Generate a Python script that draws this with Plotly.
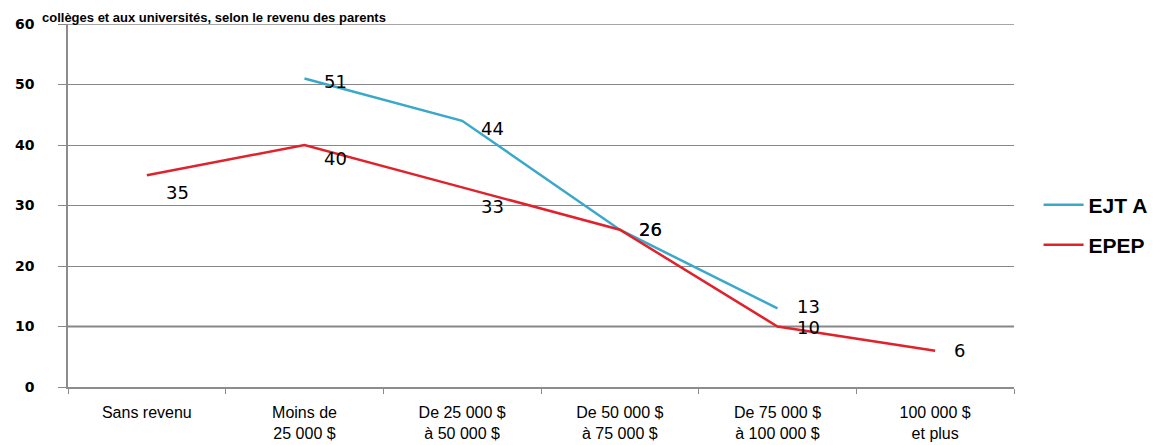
import plotly.graph_objects as go

categories = ["Sans revenu", "Moins de<br>25 000 $", "De 25 000 $<br>à 50 000 $",
              "De 50 000 $<br>à 75 000 $", "De 75 000 $<br>à 100 000 $", "100 000 $<br>et plus"]
ejta_values = [None, 51, 44, 26, 13, None]
epep_values = [35, 40, 33, 26, 10, 6]
y_ticks = [0, 10, 20, 30, 40, 50, 60]
title_text = "collèges et aux universités, selon le revenu des parents"

# label offsets in pixels (down) relative to each point
ejta_label_dy = [0, 3, 8, 0, -2, 0]
epep_label_dy = [17, 13, 19, 0, 1, 0]

fig = go.Figure()
fig.add_trace(go.Scatter(
    x=categories, y=ejta_values, name="EJT A", mode="lines",
    line=dict(color="#3AA8C8", width=2.5), legend="legend",
))
fig.add_trace(go.Scatter(
    x=categories, y=epep_values, name="EPEP", mode="lines",
    line=dict(color="#E1212B", width=2.5), legend="legend2",
))

annotations = []
label_font = dict(family="DejaVu Sans", size=18, color="black")
for values, dys in ((ejta_values, ejta_label_dy), (epep_values, epep_label_dy)):
    for cat, v, dy in zip(categories, values, dys):
        if v is None:
            continue
        annotations.append(dict(x=cat, y=v, xref="x", yref="y", text=str(v),
                                showarrow=False, xanchor="left", yanchor="middle",
                                xshift=17, yshift=-dy, font=label_font))

annotations.append(dict(text="<b>" + title_text + "</b>", xref="paper", yref="paper",
                        x=0, y=1, xanchor="left", yanchor="top", xshift=-28, yshift=16,
                        showarrow=False,
                        font=dict(family="Liberation Sans", size=13, color="black")))

# emphasised gridlines (top edge and the 10 line, as in the source)
shapes = [dict(type="line", xref="paper", yref="y", x0=0, x1=1, y0=y_ticks[-1], y1=y_ticks[-1],
               line=dict(color="#878787", width=1.5), layer="below"),
          dict(type="line", xref="paper", yref="y", x0=0, x1=1, y0=y_ticks[1], y1=y_ticks[1],
               line=dict(color="#878787", width=2), layer="below")]

legend_font = dict(family="Liberation Sans", size=21, color="black", weight="bold")
fig.update_layout(
    width=1155, height=437,
    margin=dict(l=60, r=149, t=16, b=58, autoexpand=False),
    paper_bgcolor="white", plot_bgcolor="white",
    showlegend=True,
    legend=dict(x=1.026, y=0.501, xanchor="left", yanchor="middle", font=legend_font,
                bgcolor="rgba(0,0,0,0)", itemwidth=40),
    legend2=dict(x=1.026, y=0.391, xanchor="left", yanchor="middle", font=legend_font,
                 bgcolor="rgba(0,0,0,0)", itemwidth=40),
    annotations=annotations,
    shapes=shapes,
)
fig.update_xaxes(
    type="category", range=[-0.5, 5.5], automargin=False,
    showline=True, linecolor="#8C8C8C", linewidth=1.5,
    ticks="outside", tickson="boundaries", ticklen=5, tickcolor="#8C8C8C",
    ticklabelstandoff=10,
    showgrid=False,
    tickfont=dict(family="Liberation Sans", size=16, color="black"),
)
fig.update_yaxes(
    range=[0, 60], tickvals=y_ticks, automargin=False,
    showgrid=True, gridcolor="#878787", gridwidth=1,
    showline=True, linecolor="#8C8C8C", linewidth=1.5,
    ticks="outside", ticklen=8, tickcolor="#878787",
    ticklabelstandoff=21,
    tickfont=dict(family="DejaVu Sans", size=14, color="black", weight="bold"),
    zeroline=False,
)

fig.write_html("out.html")
